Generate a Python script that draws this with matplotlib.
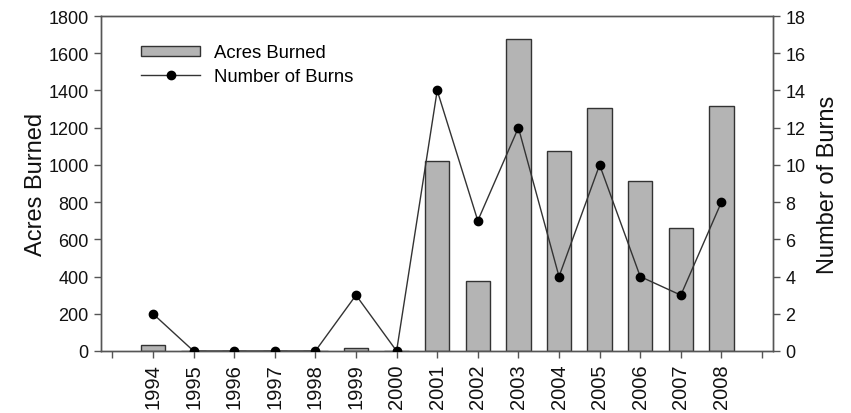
import matplotlib
matplotlib.use("Agg")
import matplotlib.pyplot as plt
from matplotlib.lines import Line2D
from matplotlib.patches import Patch

plt.rcParams['font.family'] = ['Liberation Sans', 'DejaVu Sans']

years = [1994, 1995, 1996, 1997, 1998, 1999, 2000, 2001, 2002, 2003, 2004, 2005, 2006, 2007, 2008]
acres_burned = [34, 0, 0, 0, 0, 15, 0, 1022, 378, 1676, 1075, 1304, 912, 661, 1318]
number_of_burns = [2, 0, 0, 0, 0, 3, 0, 14, 7, 12, 4, 10, 4, 3, 8]

tick_years = list(range(1993, 2010))
tick_labels = [str(y) if y in years else "" for y in tick_years]

spine_color = "#555555"

fig = plt.figure(figsize=(8.51, 4.14), dpi=100)
ax = fig.add_axes([101 / 851, 1 - 352 / 414, 672 / 851, 335 / 414])
ax2 = ax.twinx()

ax.bar(years, acres_burned, width=0.6, color="#b4b4b4", edgecolor="#333333", linewidth=1.0, zorder=2)
ax2.plot(years, number_of_burns, color="#333333", linewidth=1.0, marker="o",
         markersize=6, markerfacecolor="black", markeredgecolor="black", zorder=3)

ax.set_xlim(1992.72, 2009.27)
ax.set_ylim(0, 1800)
ax2.set_ylim(0, 18)
ax.set_yticks(range(0, 1801, 200))
ax2.set_yticks(range(0, 19, 2))
ax.set_xticks(tick_years)
ax.set_xticklabels(tick_labels, rotation=90)

for a in (ax, ax2):
    for s in a.spines.values():
        s.set_color(spine_color)
        s.set_linewidth(1.0)
    a.tick_params(axis="both", direction="out", length=5, width=1.0, color=spine_color,
                  labelsize=13, labelcolor="#111111", pad=4)
ax.tick_params(axis="x", labelsize=14.5, pad=4)

ax.set_ylabel("Acres Burned", fontsize=17, color="#111111", labelpad=1)
ax2.set_ylabel("Number of Burns", fontsize=17, color="#111111", labelpad=8)

handles = [
    Patch(facecolor="#b4b4b4", edgecolor="#333333", linewidth=1.0),
    Line2D([0], [0], color="#333333", linewidth=1.0, marker="o", markersize=6,
           markerfacecolor="black", markeredgecolor="black"),
]
ax.legend(handles, ["Acres Burned", "Number of Burns"], loc="upper left",
          bbox_to_anchor=(0.035, 0.965), frameon=False, fontsize=13.3,
          handlelength=3.2, handleheight=0.5, labelspacing=0.35, handletextpad=0.75)

fig.savefig("out.png", dpi=100)
